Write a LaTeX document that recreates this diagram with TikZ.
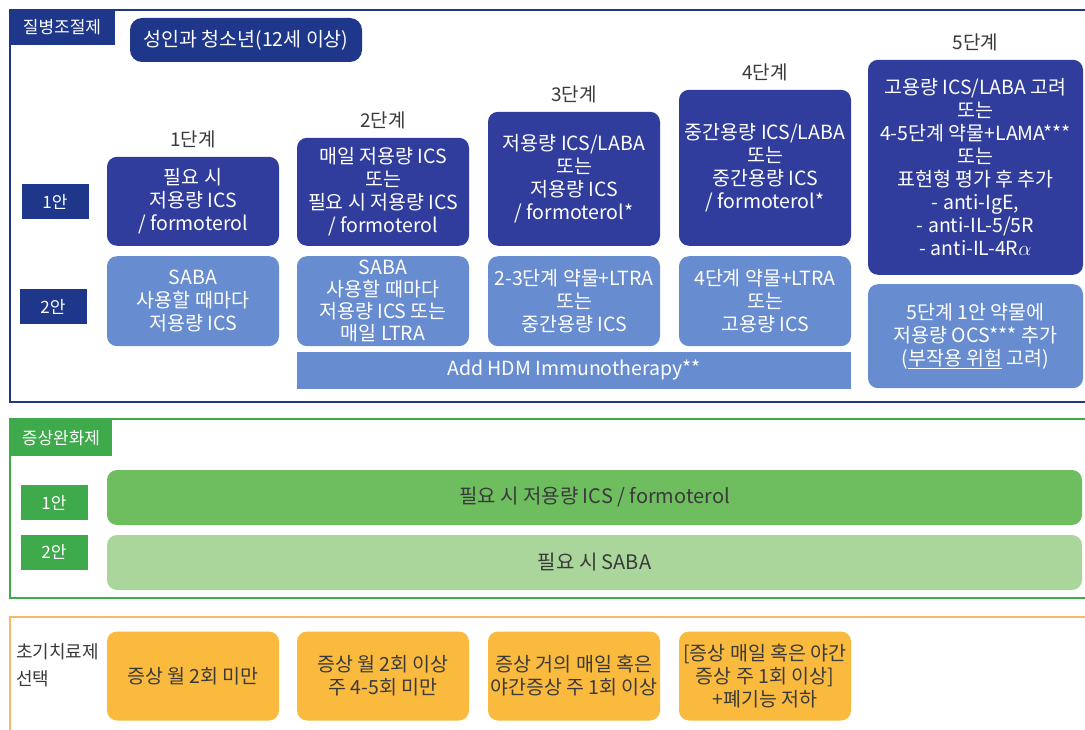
\documentclass[tikz,border=0pt]{standalone}
\usepackage{fontspec}
\setmainfont{Noto Sans CJK KR}
\usetikzlibrary{positioning}
\definecolor{navy}{RGB}{31,55,138}
\definecolor{stepblue}{RGB}{49,61,156}
\definecolor{softblue}{RGB}{104,140,208}
\definecolor{tabgreen}{RGB}{62,170,76}
\definecolor{bargreen}{RGB}{110,190,96}
\definecolor{palegreen}{RGB}{170,214,156}
\definecolor{boxorange}{RGB}{250,186,62}
\definecolor{lineorange}{RGB}{247,182,106}
\definecolor{darktext}{RGB}{58,58,58}
\tikzset{
  tab/.style={fill=navy,text=white,inner sep=0pt,font=\fontsize{17}{20}\selectfont},
  rowlbl/.style={tab,minimum width=67pt,minimum height=35pt},
  steplbl/.style={text=darktext,inner sep=0pt,font=\fontsize{19}{20}\selectfont},
  stepA/.style={fill=stepblue,text=white,rounded corners=10pt,align=center,
    minimum width=172pt,inner sep=0pt,font=\fontsize{19.5}{23}\selectfont},
  stepB/.style={stepA,fill=softblue},
  relief/.style={rounded corners=10pt,text=darktext,minimum width=975pt,
    minimum height=55pt,inner sep=0pt,font=\fontsize{20}{22}\selectfont},
  firstbox/.style={fill=boxorange,text=darktext,rounded corners=10pt,align=center,
    minimum width=172pt,minimum height=89pt,inner sep=0pt,font=\fontsize{19.5}{23}\selectfont}
}
\begin{document}
\begin{tikzpicture}[x=1pt,y=-1pt]
\clip (0,0) rectangle (1085,730);
\fill[white] (0,0) rectangle (1085,730);

% disease controller
\draw[navy,line width=2.5pt] (10,10) rectangle (1100,402);
\node[tab,minimum width=105pt,minimum height=35pt] (ctrl) at (62,27.5) {질병조절제};
\node[fill=navy,text=white,rounded corners=12pt,minimum width=232pt,minimum height=44pt,
  inner sep=0pt,font=\fontsize{19.5}{20}\selectfont] (age) at (246,40) {성인과 청소년(12세 이상)};
\node[rowlbl] (ctrlA) at (55,201.5) {1안};
\node[rowlbl] (ctrlB) at (53,306.5) {2안};

\node[stepA,minimum height=89pt,anchor=south] (s1a) at (193,246)
  {필요 시\\저용량 ICS\\/ formoterol};
\node[stepA,minimum height=108pt,anchor=south] (s2a) at (383,246)
  {매일 저용량 ICS\\또는\\필요 시 저용량 ICS\\/ formoterol};
\node[stepA,minimum height=134pt,anchor=south] (s3a) at (574,246)
  {저용량 ICS/LABA\\또는\\저용량 ICS\\/ formoterol*};
\node[stepA,minimum height=156pt,anchor=south] (s4a) at (765,246)
  {중간용량 ICS/LABA\\또는\\중간용량 ICS\\/ formoterol*};
\node[stepA,minimum width=215pt,minimum height=215pt,anchor=south] (s5a) at (975.5,275)
  {고용량 ICS/LABA 고려\\또는\\4-5단계 약물+LAMA***\\또는\\표현형 평가 후 추가\\
   - anti-IgE,\\- anti-IL-5/5R\\- anti-IL-4R$\alpha$};

\node[steplbl,above=8pt of s1a] (l1) {1단계};
\node[steplbl,above=8pt of s2a] (l2) {2단계};
\node[steplbl,above=8pt of s3a] (l3) {3단계};
\node[steplbl,above=8pt of s4a] (l4) {4단계};
\node[steplbl,above=8pt of s5a] (l5) {5단계};

\node[stepB,minimum height=90pt,below=10pt of s1a] (s1b)
  {SABA\\사용할 때마다\\저용량 ICS};
\node[stepB,minimum height=90pt,below=10pt of s2a,font=\fontsize{19.5}{22}\selectfont] (s2b)
  {SABA\\사용할 때마다\\저용량 ICS 또는\\매일 LTRA};
\node[stepB,minimum height=90pt,below=10pt of s3a] (s3b)
  {2-3단계 약물+LTRA\\또는\\중간용량 ICS};
\node[stepB,minimum height=90pt,below=10pt of s4a] (s4b)
  {4단계 약물+LTRA\\또는\\고용량 ICS};
\node[stepB,minimum width=215pt,minimum height=104pt,below=9pt of s5a] (s5b)
  {5단계 1안 약물에\\저용량 OCS*** 추가\\(\underline{부작용 위험} 고려)};
\node[fill=softblue,text=white,minimum width=554pt,minimum height=37pt,inner sep=0pt,
  font=\fontsize{19.5}{20}\selectfont] (hdm) at (574,370.5) {Add HDM Immunotherapy**};

% reliever
\draw[tabgreen,line width=2pt] (10,419) rectangle (1100,598);
\node[tab,fill=tabgreen,minimum width=102pt,minimum height=36pt] (relv) at (61,438) {증상완화제};
\node[rowlbl,fill=tabgreen] (relvA) at (54,502.5) {1안};
\node[rowlbl,fill=tabgreen] (relvB) at (54,552) {2안};
\node[relief,fill=bargreen] (barA) at (594.5,497.5) {필요 시 저용량 ICS / formoterol};
\node[relief,fill=palegreen] (barB) at (594.5,562.5) {필요 시 SABA};

% initial choice
\draw[lineorange,line width=2pt] (10,617) rectangle (1100,760);
\node[text=darktext,align=left,anchor=west,inner sep=0pt,
  font=\fontsize{18}{27}\selectfont] (init) at (16,665) {초기치료제\\선택};
\node[firstbox] (f1) at (193,676) {증상 월 2회 미만};
\node[firstbox] (f2) at (383,676) {증상 월 2회 이상\\주 4-5회 미만};
\node[firstbox] (f3) at (574,676) {증상 거의 매일 혹은\\야간증상 주 1회 이상};
\node[firstbox] (f4) at (765,676) {[증상 매일 혹은 야간\\증상 주 1회 이상]\\+폐기능 저하};
\end{tikzpicture}
\end{document}
